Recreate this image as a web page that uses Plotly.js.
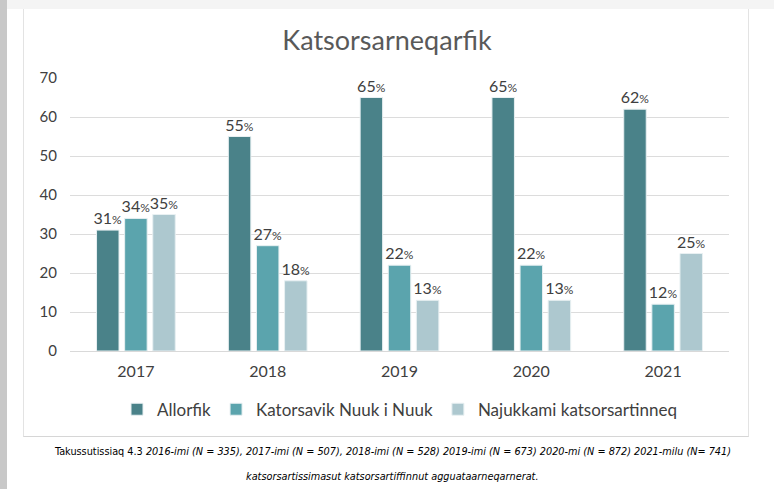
<!DOCTYPE html>
<html>
<head>
<meta charset="utf-8">
<script src="https://cdn.plot.ly/plotly-3.0.1.min.js"></script>
<style>
  html, body { margin:0; padding:0; background:#ffffff; }
  #wrap { position:relative; width:774px; height:489px; overflow:hidden; background:#ffffff; }
  #topstrip { position:absolute; left:0; top:0; width:774px; height:9px; background:#f4f4f4; }
  #leftstrip { position:absolute; left:0; top:0; width:7px; height:489px; background:#c8c8c8; }
  #box { position:absolute; left:23px; top:9px; width:726px; height:428px; border-left:1px solid #e3e3e3; border-right:1px solid #e3e3e3; border-bottom:1px solid #d6d6d6; box-sizing:border-box; }
  #chart { position:absolute; left:0; top:0; width:774px; height:489px; }
</style>
</head>
<body>
<div id="wrap">
  <div id="topstrip"></div>
  <div id="leftstrip"></div>
  <div id="box"></div>
  <div id="chart"></div>
</div>
<script>
const years = ['2017', '2018', '2019', '2020', '2021'];
const seriesNames = ['Allorfik', 'Katorsavik Nuuk i Nuuk', 'Najukkami katsorsartinneq'];
const allorfik = [31, 55, 65, 65, 62];
const katorsavik = [34, 27, 22, 22, 12];
const najukkami = [35, 18, 13, 13, 25];
const colors = ['#4a8289', '#5ba4ad', '#adc8cf'];
const yTicks = [0, 10, 20, 30, 40, 50, 60, 70];
const chartTitle = 'Katsorsarneqarfik';
const captionLine1 = 'Takussutissiaq 4.3 <i>2016-imi (N = 335), 2017-imi (N = 507), 2018-imi (N = 528) 2019-imi (N = 673) 2020-mi (N = 872) 2021-milu (N= 741)</i>';
const captionLine2 = '<i>katsorsartissimasut katsorsartiffinnut agguataarneqarnerat.</i>';

const font = 'Lato, "Open Sans", sans-serif';
const capFont = '"Liberation Sans Narrow", "DejaVu Sans Condensed", sans-serif';
const values = [allorfik, katorsavik, najukkami];

const traces = values.map((v, i) => ({
  type: 'bar',
  name: seriesNames[i],
  x: years,
  y: v,
  marker: { color: colors[i], line: { color: '#e8f0f2', width: 1 } },
  texttemplate: '%{y}<span style="font-size:12px">%</span>',
  textposition: 'outside',
  constraintext: 'none',
  cliponaxis: false,
  textfont: { family: font, size: 16, color: '#404040' },
  hoverinfo: 'skip'
}));

const layout = {
  width: 774,
  height: 489,
  paper_bgcolor: 'rgba(0,0,0,0)',
  plot_bgcolor: 'rgba(0,0,0,0)',
  margin: { l: 70, r: 45, t: 78, b: 138 },
  title: {
    text: chartTitle,
    font: { family: font, size: 27, color: '#595959' },
    x: 0.5, xanchor: 'center',
    y: 1 - 41 / 489, yanchor: 'middle'
  },
  barmode: 'group',
  bargap: 0.36,
  bargroupgap: 0.2,
  showlegend: true,
  legend: {
    orientation: 'h',
    x: 0.5, xanchor: 'center',
    y: -0.215, yanchor: 'middle',
    font: { family: font, size: 17, color: '#404040' },
    itemwidth: 30,
    traceorder: 'normal'
  },
  xaxis: {
    type: 'category',
    tickfont: { family: font, size: 16, color: '#404040' },
    showgrid: false,
    showline: true,
    linecolor: '#d9d9d9',
    linewidth: 1,
    ticks: '',
    ticklen: 0,
    ticklabelstandoff: 6
  },
  yaxis: {
    range: [0, 70],
    tickvals: yTicks,
    ticktext: yTicks.map(String),
    tickfont: { family: font, size: 15, color: '#404040' },
    showgrid: true,
    gridcolor: '#dcdcdc',
    gridwidth: 1,
    zeroline: false,
    showline: false,
    ticks: '',
    ticklabelstandoff: 12
  },
  annotations: [
    {
      text: captionLine1, xref: 'paper', yref: 'paper', showarrow: false,
      x: (392 - 70) / 659, xanchor: 'center',
      y: -(451 - 351) / 273, yanchor: 'middle',
      font: { family: capFont, size: 10.8, color: '#000000' }
    },
    {
      text: captionLine2, xref: 'paper', yref: 'paper', showarrow: false,
      x: (392 - 70) / 659, xanchor: 'center',
      y: -(476 - 351) / 273, yanchor: 'middle',
      font: { family: capFont, size: 10.8, color: '#000000' }
    }
  ]
};

Plotly.newPlot('chart', traces, layout, { staticPlot: true, displayModeBar: false });
</script>
</body>
</html>
